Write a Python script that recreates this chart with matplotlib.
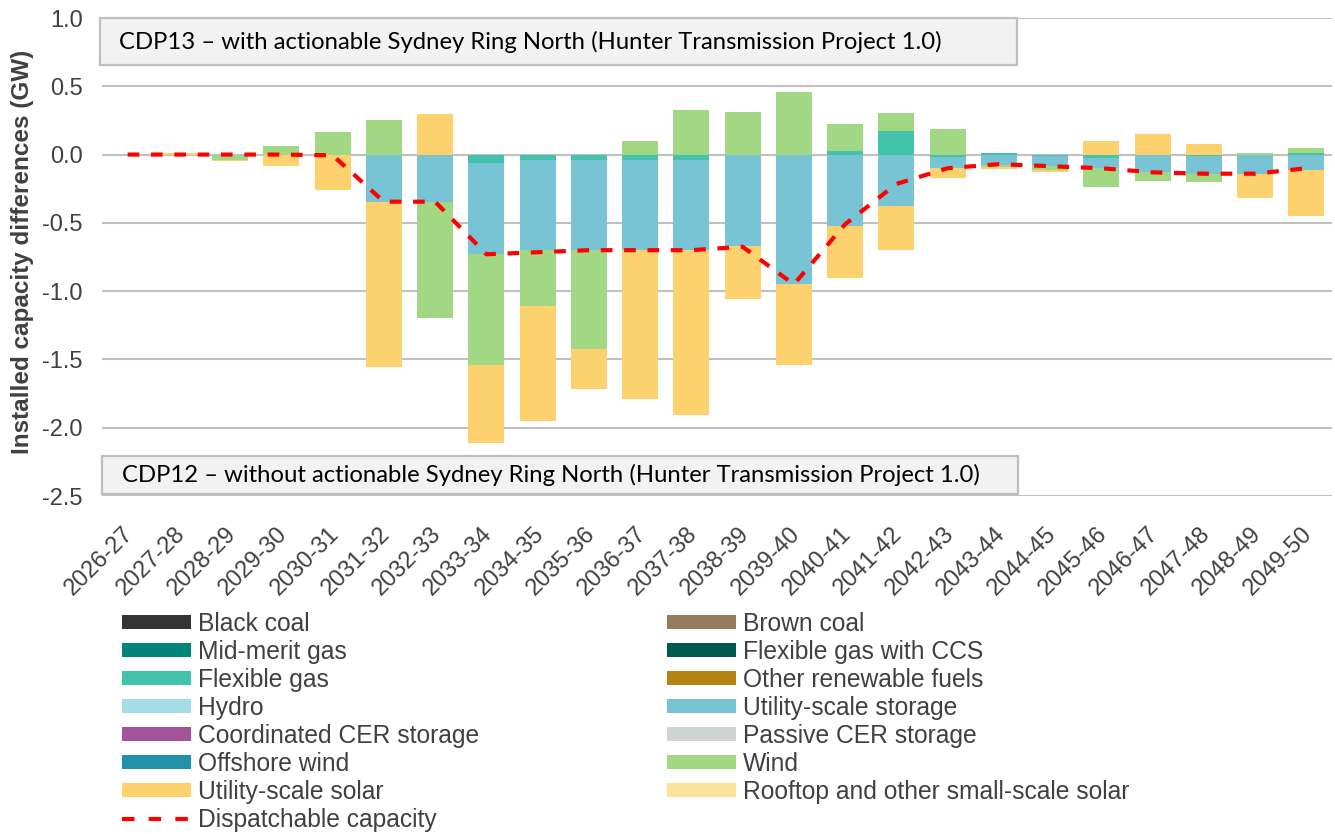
import matplotlib
matplotlib.use("Agg")
import matplotlib.pyplot as plt
import matplotlib.transforms as mtransforms
import numpy as np
from matplotlib.patches import Rectangle, Patch
from matplotlib.lines import Line2D

# ---------------- data ----------------
years = ["2026-27", "2027-28", "2028-29", "2029-30", "2030-31", "2031-32", "2032-33",
         "2033-34", "2034-35", "2035-36", "2036-37", "2037-38", "2038-39", "2039-40",
         "2040-41", "2041-42", "2042-43", "2043-44", "2044-45", "2045-46", "2046-47",
         "2047-48", "2048-49", "2049-50"]

flexible_gas = [0, 0, 0, 0, 0, 0, 0, -0.065, -0.04, -0.04, -0.04, -0.04, 0, 0,
                0.025, 0.17, -0.02, 0.01, -0.01, -0.025, 0, -0.01, 0, 0.01]
utility_storage = [0, 0, 0, 0, 0, -0.345, -0.345, -0.665, -0.66, -0.66, -0.66, -0.66,
                   -0.67, -0.95, -0.525, -0.38, -0.077, -0.08, -0.075, -0.075, -0.13,
                   -0.13, -0.14, -0.11]
wind = [0, 0, -0.04, 0.06, 0.165, 0.255, -0.855, -0.81, -0.41, -0.72, 0.10, 0.325,
        0.31, 0.46, 0.20, 0.135, 0.19, -0.01, -0.025, -0.135, -0.06, -0.06, 0.015, 0.04]
utility_solar = [0, 0.01, -0.01, -0.085, -0.26, -1.21, 0.30, -0.57, -0.84, -0.295,
                 -1.09, -1.205, -0.385, -0.59, -0.38, -0.32, -0.073, -0.015, -0.017,
                 0.10, 0.15, 0.075, -0.18, -0.34]
dispatchable = [0, 0, 0, 0, -0.005, -0.345, -0.345, -0.73, -0.715, -0.70, -0.70, -0.70,
                -0.675, -0.95, -0.51, -0.215, -0.10, -0.07, -0.085, -0.10, -0.13, -0.14,
                -0.14, -0.10]

zeros = [0] * len(years)
technologies = ["Black coal", "Brown coal", "Mid-merit gas", "Flexible gas with CCS",
                "Flexible gas", "Other renewable fuels", "Hydro", "Utility-scale storage",
                "Coordinated CER storage", "Passive CER storage", "Offshore wind", "Wind",
                "Utility-scale solar", "Rooftop and other small-scale solar"]
tech_colors = ["#333333", "#977B5C", "#00857A", "#005A4F", "#43C2AC", "#B58412",
               "#A6DCE8", "#78C4D4", "#A25399", "#D0D3D4", "#2390AA", "#A2D884",
               "#FDD16E", "#F9E29A"]
tech_values = [zeros, zeros, zeros, zeros, flexible_gas, zeros, zeros, utility_storage,
               zeros, zeros, zeros, wind, utility_solar, zeros]

top_label = "CDP13 \u2013 with actionable Sydney Ring North (Hunter Transmission Project 1.0)"
bottom_label = "CDP12 \u2013 without actionable Sydney Ring North (Hunter Transmission Project 1.0)"

# ---------------- figure ----------------
W, H = 1335, 834
fig = plt.figure(figsize=(W / 100, H / 100), dpi=100)
plt.rcParams['font.family'] = ['Liberation Sans', 'DejaVu Sans']
TXT = "#404040"

def fx(px):
    return px / W

def fy(py):
    return 1 - py / H

ax = fig.add_axes([fx(102), fy(496), fx(1332) - fx(102), fy(18) - fy(496)])

x = np.arange(len(years))
pos_base = np.zeros(len(years))
neg_base = np.zeros(len(years))
for name, col, vals in zip(technologies, tech_colors, tech_values):
    v = np.array(vals, dtype=float)
    pos = np.where(v > 0, v, 0)
    neg = np.where(v < 0, v, 0)
    if np.any(pos):
        ax.bar(x, pos, bottom=pos_base, width=0.70, color=col, zorder=2, linewidth=0)
    if np.any(neg):
        ax.bar(x, neg, bottom=neg_base, width=0.70, color=col, zorder=2, linewidth=0)
    pos_base += pos
    neg_base += neg

ax.plot(x, dispatchable, color="#FF0000", lw=3, dashes=(2.8, 2.8), zorder=4)

ax.set_xlim(-0.5, len(years) - 0.5)
ax.set_ylim(-2.5, 1.0)
yt = np.arange(-2.5, 1.01, 0.5)
ax.set_yticks(yt)
ax.set_yticklabels([f"{v:.1f}" for v in yt])
ax.yaxis.grid(True, color="#C0C0C0", lw=1.5, zorder=0)
ax.set_axisbelow(True)
for s in ax.spines.values():
    s.set_visible(False)
ax.tick_params(axis='y', length=0, pad=14, labelsize=17, labelcolor=TXT)
ax.tick_params(axis='x', length=0, pad=19, labelsize=17, labelcolor=TXT)
ax.set_xticks(x)
ax.set_xticklabels(years, rotation=45, ha='right', va='top', rotation_mode='anchor')
shift = mtransforms.ScaledTranslation(-5 / 100, 0, fig.dpi_scale_trans)
for lbl in ax.get_xticklabels():
    lbl.set_transform(lbl.get_transform() + shift)

fig.text(fx(23), fy(252), "Installed capacity differences (GW)", rotation=90,
         ha='center', va='center', fontsize=17.5, fontweight='bold', color=TXT)

# ---------------- annotation boxes ----------------
def label_box(x0, y0, x1, y1, tx0, tx1, text):
    rect = Rectangle((fx(x0), fy(y1)), fx(x1) - fx(x0), fy(y0) - fy(y1),
                     transform=fig.transFigure, facecolor="#F2F2F2",
                     edgecolor="#BFBFBF", lw=1.6, zorder=5)
    fig.patches.append(rect)
    t = fig.text(fx(tx0), fy((y0 + y1) / 2), text, ha='left', va='center',
                 fontsize=15, family=['Lato', 'DejaVu Sans'], color="#000000", zorder=6)
    fig.canvas.draw()
    bb = t.get_window_extent()
    t.set_fontsize(15 * (tx1 - tx0) / bb.width)
    return t

label_box(100, 18, 1017, 65, 119, 945, top_label)
label_box(102, 456, 1018, 494, 122, 982, bottom_label)

# ---------------- legend ----------------
handles = {name: Patch(facecolor=c, edgecolor='none') for name, c in zip(technologies, tech_colors)}
disp_handle = Line2D([0], [0], color="#FF0000", lw=3, dashes=(3.0, 3.4))
col1 = ["Black coal", "Mid-merit gas", "Flexible gas", "Hydro", "Coordinated CER storage",
        "Offshore wind", "Utility-scale solar"]
col2 = ["Brown coal", "Flexible gas with CCS", "Other renewable fuels", "Utility-scale storage",
        "Passive CER storage", "Wind", "Rooftop and other small-scale solar"]

common = dict(frameon=False, fontsize=17.7, handlelength=2.8, handleheight=0.48,
              handletextpad=0.28, labelspacing=0.16, borderpad=0, borderaxespad=0,
              labelcolor=TXT, loc='upper left')
leg1 = fig.legend([handles[n] for n in col1] + [disp_handle], col1 + ["Dispatchable capacity"],
                  bbox_to_anchor=(fx(122), fy(612)), **common)
leg2 = fig.legend([handles[n] for n in col2], col2,
                  bbox_to_anchor=(fx(667), fy(612)), **common)

fig.savefig("out.png", dpi=100)
